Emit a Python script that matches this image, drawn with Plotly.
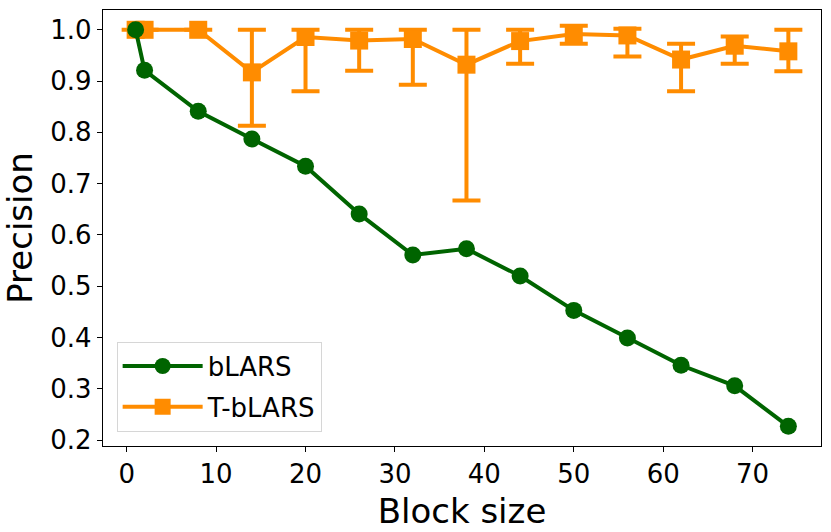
import plotly.graph_objects as go

# bLARS precision per block size
blars_x = [1, 2, 8, 14, 20, 26, 32, 38, 44, 50, 56, 62, 68, 74]
blars_y = [1.0, 0.921, 0.841, 0.787, 0.734, 0.641, 0.561, 0.573, 0.520, 0.453, 0.399, 0.346, 0.306, 0.227]

# T-bLARS precision with upper / lower error bounds
tblars_x = [1, 2, 8, 14, 20, 26, 32, 38, 44, 50, 56, 62, 68, 74]
tblars_y = [1.0, 1.0, 1.0, 0.917, 0.986, 0.979, 0.982, 0.932, 0.978, 0.992, 0.989, 0.942, 0.969, 0.958]
tblars_hi = [1.0, 1.0, 1.0, 1.0, 1.0, 1.0, 1.0, 1.0, 1.0, 1.008, 1.002, 0.973, 0.987, 1.0]
tblars_lo = [1.0, 1.0, 1.0, 0.813, 0.880, 0.920, 0.893, 0.667, 0.934, 0.973, 0.948, 0.880, 0.934, 0.919]

x_ticks = [0, 10, 20, 30, 40, 50, 60, 70]
y_ticks = [0.2, 0.3, 0.4, 0.5, 0.6, 0.7, 0.8, 0.9, 1.0]

GREEN = '#006400'
ORANGE = '#ff8c00'
FONT = 'DejaVu Sans'

err_plus = [h - y for h, y in zip(tblars_hi, tblars_y)]
err_minus = [y - l for l, y in zip(tblars_lo, tblars_y)]

fig = go.Figure()

fig.add_trace(go.Scatter(x=tblars_x, y=tblars_y, name='T-bLARS', mode='lines+markers',
                         legendgroup='t', legendrank=2,
                         line=dict(color=ORANGE, width=4),
                         marker=dict(symbol='square', size=18, color=ORANGE),
                         error_y=dict(type='data', symmetric=False, array=err_plus,
                                      arrayminus=err_minus, color=ORANGE,
                                      thickness=4, width=14)))

# bLARS drawn last so its circles sit on top of the squares
fig.add_trace(go.Scatter(x=blars_x, y=blars_y, name='bLARS', mode='lines+markers',
                         legendgroup='b', legendrank=1,
                         line=dict(color=GREEN, width=4),
                         marker=dict(symbol='circle', size=17, color=GREEN)))

axis_common = dict(showline=True, linecolor='black', linewidth=1.3, mirror=True,
                   ticks='outside', ticklen=5, tickwidth=1.3, tickcolor='black',
                   showgrid=False, zeroline=False, automargin=False,
                   tickfont=dict(family=FONT, size=26, color='black'))

fig.update_xaxes(range=[-2.65, 77.65], tickvals=x_ticks,
                 title=dict(text='Block size', font=dict(family=FONT, size=34, color='black'),
                            standoff=10),
                 **axis_common)
fig.update_yaxes(range=[0.1886, 1.0386], tickvals=y_ticks, tickformat='.1f',
                 title=dict(text='Precision', font=dict(family=FONT, size=34, color='black'),
                            standoff=12),
                 **axis_common)

fig.update_layout(width=831, height=532,
                  margin=dict(l=103, r=10, t=10, b=86),
                  paper_bgcolor='white', plot_bgcolor='white',
                  font=dict(family=FONT, color='black'),
                  legend=dict(x=0.019, y=0.033, xanchor='left', yanchor='bottom',
                              traceorder='grouped', tracegroupgap=4,
                              bordercolor='#d6d6d6', borderwidth=1, bgcolor='white',
                              font=dict(family=FONT, size=26, color='black'),
                              itemwidth=80))

# page body has a default 8px margin; drop it so the figure sits at the corner
fig.write_html("out.html", config={'displayModeBar': False},
               post_script="document.body.style.margin='0';")
